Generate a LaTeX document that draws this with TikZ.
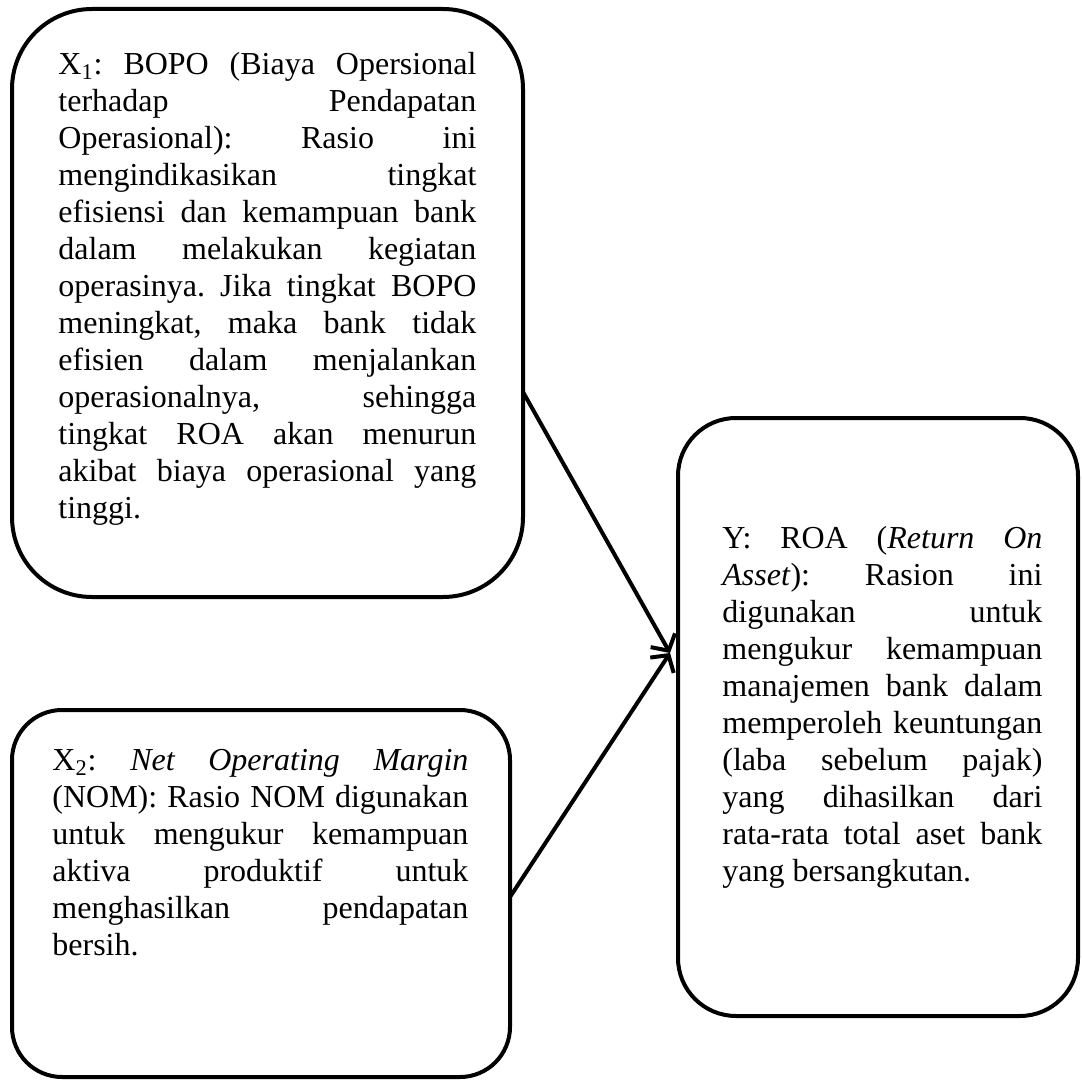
\documentclass[tikz,border=0pt]{standalone}
\usepackage{fontspec}
\setmainfont{Liberation Serif}
\usetikzlibrary{arrows.meta, positioning}
\frenchspacing

\begin{document}
\begin{tikzpicture}[
  x=0.5pt, y=-0.5pt,
  varbox/.style={rectangle, draw=black, line width=2pt, outer sep=0pt, inner sep=0pt},
  vartext/.style={anchor=north west, inner sep=0pt, align=justify, font=\fontsize{16}{18.5}\selectfont},
  arr/.style={-{Straight Barb[length=6pt, width=14pt]}, line width=2pt, line cap=round}
]
\useasboundingbox (0,0) rectangle (1082,1081);
% kotak variabel
\node[varbox, rounded corners=40pt, minimum width=255.5pt, minimum height=294pt] (bopo) at (267.5,303) {};
\node[varbox, rounded corners=25pt, minimum width=249pt, minimum height=183.5pt] (nom) at (261,893.5) {};
\node[varbox, rounded corners=29pt, minimum width=200pt, minimum height=299pt] (roa) at (878,717) {};
% isi teks
\node[vartext, text width=209pt] (bopotext) at ([shift={(46,39.1)}]bopo.north west) {\strut X\textsubscript{1}: BOPO (Biaya Opersional\linebreak
terhadap Pendapatan\linebreak
Operasional): Rasio ini\linebreak
mengindikasikan tingkat\linebreak
efisiensi dan kemampuan bank\linebreak
dalam melakukan kegiatan\linebreak
operasinya. Jika tingkat BOPO\linebreak
meningkat, maka bank tidak\linebreak
efisien dalam menjalankan\linebreak
operasionalnya, sehingga\linebreak
tingkat ROA akan menurun\linebreak
akibat biaya operasional yang\linebreak
tinggi.};
\node[vartext, text width=208pt] (nomtext) at ([shift={(40,34.1)}]nom.north west) {\strut X\textsubscript{2}: \textit{Net Operating Margin}\linebreak
(NOM): Rasio NOM digunakan\linebreak
untuk mengukur kemampuan\linebreak
aktiva produktif untuk\linebreak
menghasilkan pendapatan\linebreak
bersih.};
\node[vartext, text width=160pt] (roatext) at ([shift={(44,104.1)}]roa.north west) {\strut Y: ROA (\textit{Return On}\linebreak
\textit{Asset}): Rasion ini\linebreak
digunakan untuk\linebreak
mengukur kemampuan\linebreak
manajemen bank dalam\linebreak
memperoleh keuntungan\linebreak
(laba sebelum pajak)\linebreak
yang dihasilkan dari\linebreak
rata-rata total aset bank\linebreak
yang bersangkutan.};
% panah
\coordinate (tip) at ([shift={(-8,-64)}]roa.west);
\draw[arr] ([shift={(0,89)}]bopo.east) -- (tip);
\draw[arr] ([shift={(0,3.5)}]nom.east) -- (tip);
\end{tikzpicture}
\end{document}
